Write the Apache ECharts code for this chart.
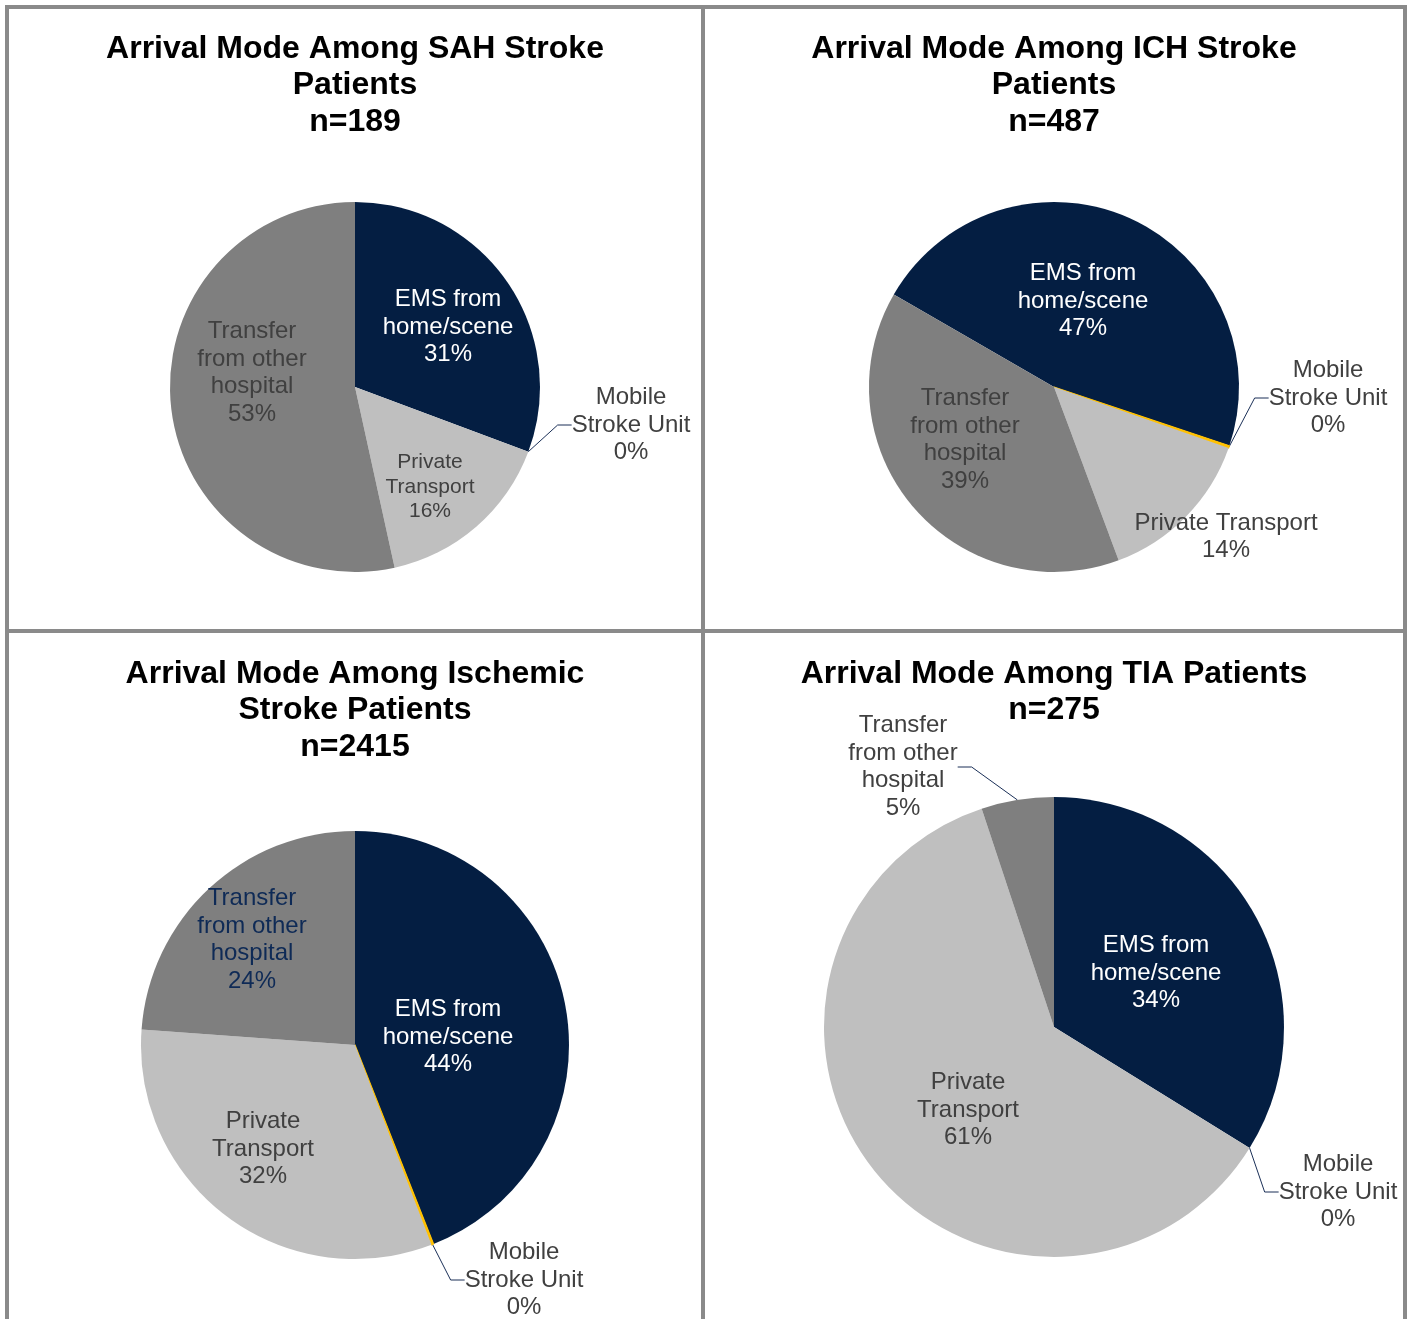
<!DOCTYPE html>
<html>
<head>
<meta charset="utf-8">
<title>Arrival Mode Among Stroke Patients</title>
<script src="https://cdn.jsdelivr.net/npm/echarts@6/dist/echarts.min.js"></script>
<style>
html, body { margin: 0; padding: 0; background: #fff; }
#main { width: 1413px; height: 1319px; }
</style>
</head>
<body>
<div id="main"></div>
<script>
// arrival mode categories (same order in every pie, clockwise)
var categories = ['EMS from home/scene', 'Mobile Stroke Unit', 'Private Transport', 'Transfer from other hospital'];

// patient counts per category
var sahValues = [58, 0, 30, 101];
var ichValues = [228, 1, 68, 190];
var ischemicValues = [1063, 4, 772, 576];
var tiaValues = [93, 0, 168, 14];

// label text (how the names wrap inside each pie)
var labelNames = ['EMS from\nhome/scene', 'Mobile\nStroke Unit', 'Private\nTransport', 'Transfer\nfrom other\nhospital'];
var ichLabelNames = ['EMS from\nhome/scene', 'Mobile\nStroke Unit', 'Private Transport', 'Transfer\nfrom other\nhospital'];

var titles = ['Arrival Mode Among SAH Stroke\nPatients', 'Arrival Mode Among ICH Stroke\nPatients',
	'Arrival Mode Among Ischemic\nStroke Patients', 'Arrival Mode Among TIA Patients'];

var colors = ['#041E42', '#FFC000', '#BFBFBF', '#7F7F7F'];

var font = '"Liberation Sans", Arial, Helvetica, sans-serif';
var textGrey = '#404040';
var lineColor = '#1A2F57';

// layout of the four panels
var panels = [
	{ title: titles[0], values: sahValues, names: labelNames, center: [355, 387], radius: 185, startAngle: 90, titleX: 355, titleY: 30.5,
		outside: [1], labelPos: [[93, -60], [276, 38], [75, 100], [-103, -14]],
		labelColors: ['#fff', textGrey, textGrey, textGrey], labelSizes: [24, 24, 21, 24] },
	{ title: titles[1], values: ichValues, names: ichLabelNames, center: [1054, 387], radius: 185, startAngle: 150, titleX: 1054, titleY: 30.5,
		outside: [1], labelPos: [[29, -86], [274, 11], [172, 150], [-89, 53]],
		labelColors: ['#fff', textGrey, textGrey, textGrey], labelSizes: [24, 24, 24, 24] },
	{ title: titles[2], values: ischemicValues, names: labelNames, center: [355, 1045], radius: 214, startAngle: 90, titleX: 355, titleY: 655.5,
		outside: [1], labelPos: [[93, -8], [169, 235], [-92, 104], [-103, -105]],
		labelColors: ['#fff', textGrey, textGrey, '#0E2A56'], labelSizes: [24, 24, 24, 24] },
	{ title: titles[3], values: tiaValues, names: labelNames, center: [1054, 1027], radius: 230, startAngle: 90, titleX: 1054, titleY: 655.5,
		outside: [1, 3], labelPos: [[102, -54], [284, 165], [-86, 83], [-151, -260]],
		labelColors: ['#fff', textGrey, textGrey, textGrey], labelSizes: [24, 24, 24, 24] }
];

function sum(arr) {
	var s = 0;
	for (var i = 0; i < arr.length; i++) s += arr[i];
	return s;
}

var titleList = [];
var seriesList = [];

panels.forEach(function (panel, k) {
	titleList.push({
		text: panel.title + '\nn=' + sum(panel.values),
		left: panel.titleX,
		top: panel.titleY,
		textAlign: 'center',
		padding: 0,
		textStyle: {
			fontFamily: font,
			fontSize: 32,
			fontWeight: 'bold',
			color: '#000',
			lineHeight: 36.5
		}
	});

	var data = [];
	for (var i = 0; i < categories.length; i++) {
		var isOut = panel.outside.indexOf(i) >= 0;
		var item = {
			name: categories[i],
			value: panel.values[i],
			label: {
				position: isOut ? 'outside' : 'inside',
				formatter: panel.names[i] + '\n{d}%',
				color: panel.labelColors[i],
				fontSize: panel.labelSizes[i],
				lineHeight: panel.labelSizes[i] === 24 ? 27.7 : 24.5
			},
			labelLine: { show: isOut }
		};
		// thin slices (mobile unit) get an outline so they stay visible
		if (panel.values[i] > 0 && panel.values[i] / sum(panel.values) < 0.01) {
			item.itemStyle = { borderColor: colors[i], borderWidth: 1.2 };
		}
		data.push(item);
	}

	seriesList.push({
		name: categories.join(','),
		type: 'pie',
		center: panel.center,
		radius: [0, panel.radius],
		startAngle: panel.startAngle,
		clockwise: true,
		avoidLabelOverlap: false,
		percentPrecision: 0,
		silent: true,
		itemStyle: { borderWidth: 0 },
		label: {
			show: true,
			fontFamily: font,
			textBorderWidth: 0,
			align: 'center'
		},
		labelLine: {
			length: 12,
			length2: 14,
			lineStyle: { color: lineColor, width: 1 }
		},
		labelLayout: function (params) {
			var p = panel.labelPos[params.dataIndex];
			return {
				x: panel.center[0] + p[0],
				y: panel.center[1] + p[1],
				align: 'center',
				verticalAlign: 'middle'
			};
		},
		data: data
	});
});

var myChart = echarts.init(document.getElementById('main'));
var option = {
	animation: false,
	color: colors,
	title: titleList,
	graphic: [
		{ type: 'rect', shape: { x: 7, y: 7, width: 1398, height: 1340 }, style: { fill: 'none', stroke: '#8A8A8A', lineWidth: 4 } },
		{ type: 'line', shape: { x1: 703, y1: 7, x2: 703, y2: 1319 }, style: { stroke: '#8A8A8A', lineWidth: 4 } },
		{ type: 'line', shape: { x1: 7, y1: 631, x2: 1405, y2: 631 }, style: { stroke: '#8A8A8A', lineWidth: 4 } }
	],
	series: seriesList
};
myChart.setOption(option);
</script>
</body>
</html>
